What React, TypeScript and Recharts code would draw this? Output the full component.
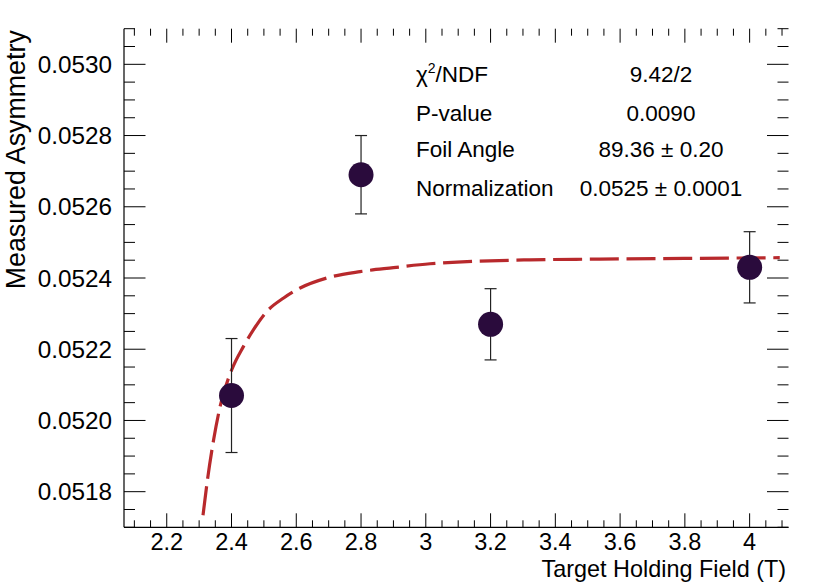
import React from "react";
import {
  ComposedChart,
  Scatter,
  Line,
  XAxis,
  YAxis,
  ErrorBar,
} from "recharts";

// measured points
const fieldT = [2.4, 2.8, 3.2, 4.0];
const asymmetry = [0.05207, 0.05269, 0.05227, 0.05243];
const asymErr = [0.00016, 0.00011, 0.0001, 0.0001];

// fit curve
const fitX = [2.312, 2.326, 2.345, 2.365, 2.401, 2.437, 2.468, 2.509, 2.561, 2.612, 2.694, 2.797, 2.9, 3.013, 3.321, 3.537, 3.8, 4.093];
const fitY = [0.051734, 0.051835, 0.051947, 0.05204, 0.052143, 0.052208, 0.052255, 0.052306, 0.052344, 0.052372, 0.0524, 0.052418, 0.052429, 0.05244, 0.052451, 0.052453, 0.052455, 0.052457];

const xTicks = [2.1, 2.15, 2.2, 2.25, 2.3, 2.35, 2.4, 2.45, 2.5, 2.55, 2.6, 2.65, 2.7, 2.75, 2.8, 2.85, 2.9, 2.95, 3, 3.05, 3.1, 3.15, 3.2, 3.25, 3.3, 3.35, 3.4, 3.45, 3.5, 3.55, 3.6, 3.65, 3.7, 3.75, 3.8, 3.85, 3.9, 3.95, 4, 4.05, 4.1];
const xMajor = [2.2, 2.4, 2.6, 2.8, 3, 3.2, 3.4, 3.6, 3.8, 4];
const xLabels = ["2.2", "2.4", "2.6", "2.8", "3", "3.2", "3.4", "3.6", "3.8", "4"];

const yTicks = [0.0517, 0.05175, 0.0518, 0.05185, 0.0519, 0.05195, 0.052, 0.05205, 0.0521, 0.05215, 0.0522, 0.05225, 0.0523, 0.05235, 0.0524, 0.05245, 0.0525, 0.05255, 0.0526, 0.05265, 0.0527, 0.05275, 0.0528, 0.05285, 0.0529, 0.05295, 0.053, 0.05305, 0.0531];
const yMajor = [0.0518, 0.052, 0.0522, 0.0524, 0.0526, 0.0528, 0.053];
const yLabels = ["0.0518", "0.0520", "0.0522", "0.0524", "0.0526", "0.0528", "0.0530"];

const statNames = ["χ", "P-value", "Foil Angle", "Normalization"];
const statValues = ["9.42/2", "0.0090", "89.36 ± 0.20", "0.0525 ± 0.0001"];

const points = fieldT.map((x, i) => ({ x, y: asymmetry[i], err: asymErr[i] }));
const fit = fitX.map((x, i) => ({ x, y: fitY[i] }));

const W = 830;
const H = 587;
const MARGIN = { top: 28.7, right: 41.5, bottom: 0, left: 0 };
const YAXIS_W = 124;
const XAXIS_H = 59.7;
const PLOT_LEFT = MARGIN.left + YAXIS_W;
const PLOT_RIGHT = W - MARGIN.right;
const PLOT_TOP = MARGIN.top;
const PLOT_BOTTOM = H - MARGIN.bottom - XAXIS_H;

const FONT = "'Liberation Sans', Arial, Helvetica, sans-serif";
const MARKER = "#2a0b3c";
const FIT = "#b8292c";

const findIdx = (arr: number[], v: number) =>
  arr.findIndex((m) => Math.abs(m - v) < 1e-9);

const XTick = (props: any) => {
  const { x, payload } = props;
  const idx = findIdx(xMajor, payload.value);
  const len = idx >= 0 ? 14 : 7;
  return (
    <g>
      <line x1={x} x2={x} y1={PLOT_BOTTOM} y2={PLOT_BOTTOM - len} stroke="#000" />
      <line x1={x} x2={x} y1={PLOT_TOP} y2={PLOT_TOP + len} stroke="#000" />
      {idx >= 0 && (
        <text x={x} y={PLOT_BOTTOM + 23} textAnchor="middle" fontSize={23.5} fontFamily={FONT} fill="#000">
          {xLabels[idx]}
        </text>
      )}
    </g>
  );
};

const YTick = (props: any) => {
  const { y, payload } = props;
  const idx = findIdx(yMajor, payload.value);
  const len = idx >= 0 ? 21.5 : 11;
  return (
    <g>
      <line x1={PLOT_LEFT} x2={PLOT_LEFT + len} y1={y} y2={y} stroke="#000" />
      <line x1={PLOT_RIGHT} x2={PLOT_RIGHT - len} y1={y} y2={y} stroke="#000" />
      {idx >= 0 && (
        <text x={PLOT_LEFT - 12} y={y + 8.6} textAnchor="end" fontSize={24.3} fontFamily={FONT} fill="#000">
          {yLabels[idx]}
        </text>
      )}
    </g>
  );
};

const XTitle = (props: any) => {
  const { viewBox } = props;
  return (
    <text x={viewBox.x + viewBox.width - 2.5} y={viewBox.y + 49.5} textAnchor="end" fontSize={23.4} fontFamily={FONT} fill="#000">
      Target Holding Field (T)
    </text>
  );
};

const YTitle = (props: any) => {
  const { viewBox } = props;
  const tx = viewBox.x + 25;
  const ty = viewBox.y + 1.5;
  return (
    <text x={tx} y={ty} transform={`rotate(-90, ${tx}, ${ty})`} textAnchor="end" fontSize={26.8} fontFamily={FONT} fill="#000">
      Measured Asymmetry
    </text>
  );
};

const statBaselines = [82, 121, 157, 196];

export default function App() {
  return (
    <div style={{ position: "absolute", left: 0, top: 0, width: W, height: H, background: "#fff" }}>
      <ComposedChart width={W} height={H} margin={MARGIN}>
        <XAxis
          dataKey="x"
          type="number"
          domain={[2.068, 4.12]}
          allowDataOverflow
          ticks={xTicks}
          interval={0}
          height={XAXIS_H}
          tickLine={false}
          axisLine={{ stroke: "#000", strokeWidth: 1.2 }}
          tick={<XTick />}
          label={<XTitle />}
        />
        <XAxis
          xAxisId="top"
          orientation="top"
          type="number"
          domain={[2.068, 4.12]}
          allowDataOverflow
          height={0}
          tick={false}
          tickLine={false}
          axisLine={{ stroke: "#000", strokeWidth: 1.2 }}
        />
        <YAxis
          type="number"
          domain={[0.0517, 0.0531]}
          allowDataOverflow
          ticks={yTicks}
          interval={0}
          width={YAXIS_W}
          tickLine={false}
          axisLine={{ stroke: "#000", strokeWidth: 1.2 }}
          tick={<YTick />}
          label={<YTitle />}
        />
        <YAxis
          yAxisId="right"
          orientation="right"
          type="number"
          domain={[0.0517, 0.0531]}
          allowDataOverflow
          width={0}
          tick={false}
          tickLine={false}
          axisLine={{ stroke: "#000", strokeWidth: 1.2 }}
        />
        <Scatter
          data={points}
          dataKey="y"
          isAnimationActive={false}
          shape={(p: any) => <circle cx={p.cx} cy={p.cy} r={12.5} fill={MARKER} />}
        />
        <Line
          data={fit}
          dataKey="y"
          type="monotone"
          stroke={FIT}
          strokeWidth={3.2}
          strokeDasharray="29 7.7"
          dot={false}
          activeDot={false}
          isAnimationActive={false}
        />
        <Scatter data={points} dataKey="y" isAnimationActive={false} shape={() => <g />}>
          <ErrorBar dataKey="err" direction="y" width={6} stroke="#222" strokeWidth={1.2} />
        </Scatter>
      </ComposedChart>
      <svg
        width={W}
        height={H}
        style={{ position: "absolute", left: 0, top: 0, pointerEvents: "none" }}
      >
        {statNames.map((name, i) => (
          <g key={name}>
            <text x={416} y={statBaselines[i]} fontSize={22.5} fontFamily={FONT} fill="#000">
              {name}
              {i === 0 && (
                <>
                  <tspan dy={-9} fontSize={14}>2</tspan>
                  <tspan dy={9}>/NDF</tspan>
                </>
              )}
            </text>
            <text x={661} y={statBaselines[i]} textAnchor="middle" fontSize={22.5} fontFamily={FONT} fill="#000">
              {statValues[i]}
            </text>
          </g>
        ))}
      </svg>
    </div>
  );
}
